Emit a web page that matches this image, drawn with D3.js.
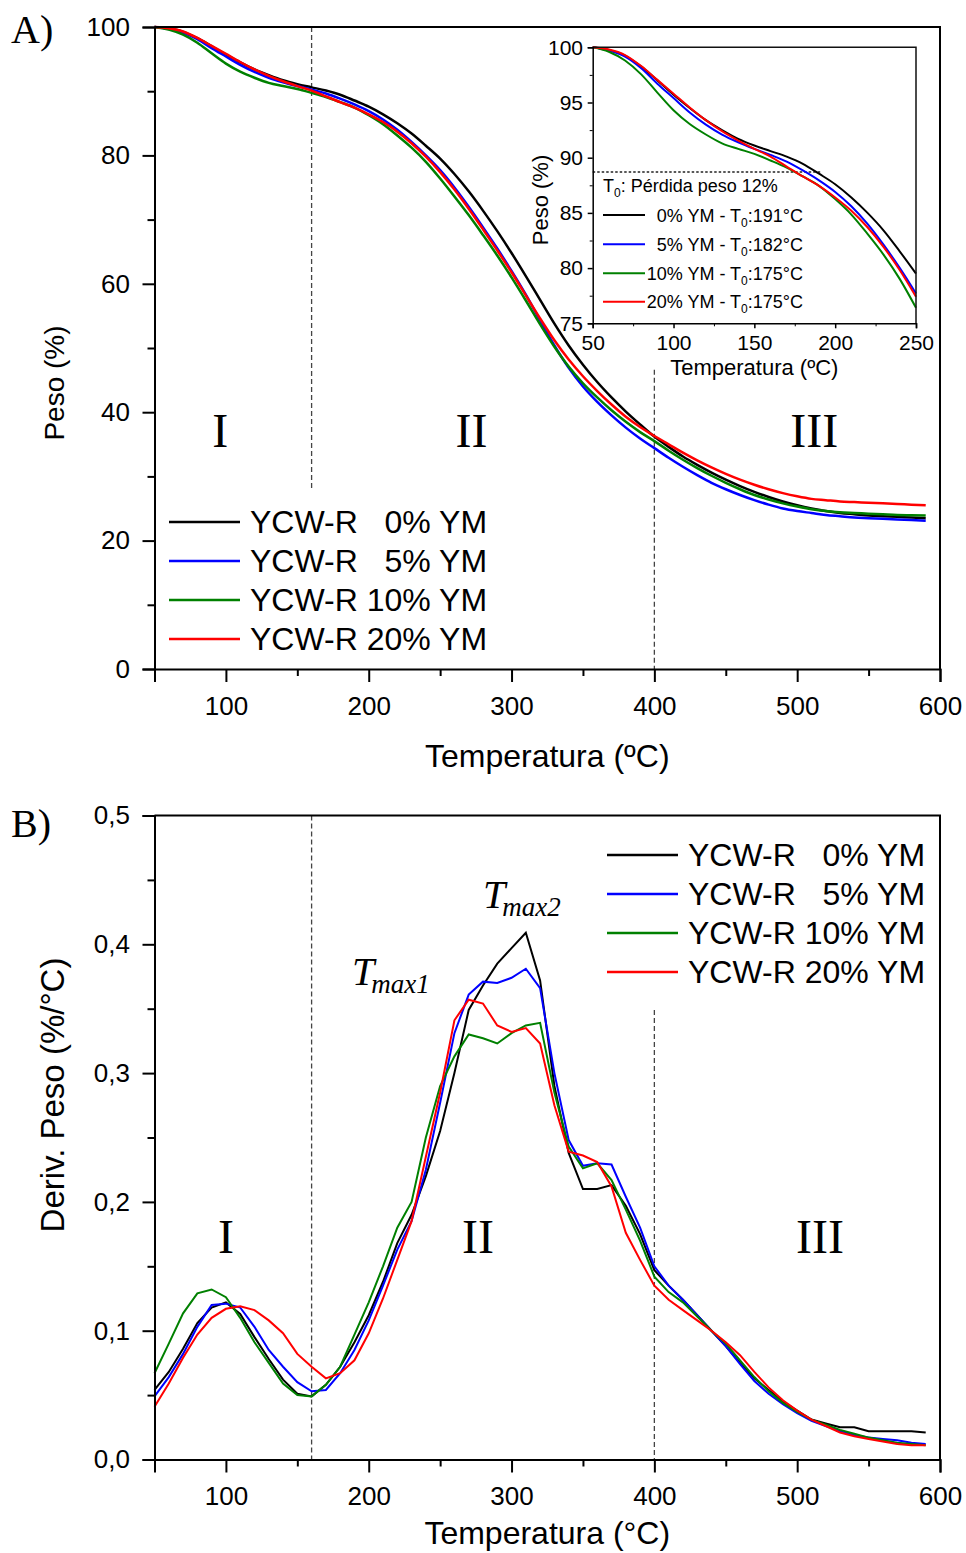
<!DOCTYPE html>
<html>
<head>
<meta charset="utf-8">
<script src="https://cdn.jsdelivr.net/npm/d3@7"></script>
<style>
  html, body { margin: 0; padding: 0; background: #fff; }
  svg { display: block; }
  text { font-family: "Liberation Sans", Arial, sans-serif; fill: #000; }
  .serif { font-family: "Liberation Serif", "Times New Roman", serif; }
  .axis path, .axis line { stroke: #000; }
</style>
</head>
<body>
<svg id="fig" width="966" height="1553"></svg>
<script>
// Temperature grid (°C)
const tempC = [50, 60, 70, 80, 90, 100, 110, 120, 130, 140, 150, 160, 170, 180, 190,
  200, 210, 220, 230, 240, 250, 260, 270, 280, 290, 300, 310, 320, 330, 340, 350,
  360, 370, 380, 390, 400, 410, 420, 430, 440, 450, 460, 470, 480, 490, 500, 510,
  520, 530, 540, 550, 560, 570, 580, 590];

// TGA: residual weight (%)
const weight0 = [100, 99.75, 99.25, 98.25, 97.0, 95.7, 94.5, 93.4, 92.5, 91.7, 91.1, 90.6, 90.1, 89.45, 88.55,
  87.6, 86.4, 85.0, 83.4, 81.5, 79.5, 77.1, 74.4, 71.4, 68.2, 64.8, 61.2, 57.5, 53.8, 50.4, 47.4,
  44.7, 42.3, 40.1, 38.1, 36.2, 34.6, 33.1, 31.8, 30.6, 29.5, 28.5, 27.6, 26.8, 26.1, 25.5, 25.0,
  24.6, 24.3, 24.1, 23.9, 23.8, 23.7, 23.6, 23.5];
const weight5 = [100, 99.7, 99.15, 98.1, 96.7, 95.4, 94.1, 93.0, 92.1, 91.4, 90.8, 90.25, 89.65, 88.85, 87.95,
  86.9, 85.6, 84.0, 82.1, 80.0, 77.7, 75.0, 72.0, 68.8, 65.5, 62.0, 58.3, 54.3, 50.4, 46.9, 44.0,
  41.6, 39.5, 37.6, 35.9, 34.4, 32.9, 31.5, 30.2, 29.0, 28.0, 27.1, 26.3, 25.6, 25.0, 24.6, 24.3,
  24.0, 23.8, 23.6, 23.5, 23.4, 23.3, 23.2, 23.1];
const weight10 = [100, 99.6, 98.8, 97.55, 95.9, 94.3, 93.05, 92.1, 91.3, 90.8, 90.35, 89.75, 89.1, 88.3, 87.45,
  86.25, 84.85, 83.1, 81.2, 79.0, 76.4, 73.6, 70.7, 67.6, 64.4, 61.0, 57.4, 53.7, 50.2, 47.1, 44.5,
  42.3, 40.3, 38.5, 36.9, 35.5, 34.0, 32.6, 31.3, 30.1, 29.0, 28.0, 27.1, 26.4, 25.8, 25.3, 24.9,
  24.6, 24.4, 24.3, 24.2, 24.1, 24.0, 23.95, 23.9];
const weight20 = [100, 99.8, 99.3, 98.3, 97.05, 95.8, 94.55, 93.4, 92.4, 91.55, 90.8, 90.1, 89.2, 88.3, 87.45,
  86.4, 85.2, 83.7, 81.9, 79.8, 77.4, 74.7, 71.7, 68.5, 65.2, 61.8, 58.2, 54.6, 51.2, 48.2, 45.6,
  43.3, 41.2, 39.3, 37.7, 36.3, 35.0, 33.7, 32.5, 31.4, 30.4, 29.5, 28.7, 28.0, 27.4, 26.9, 26.5,
  26.3, 26.1, 26.0, 25.9, 25.8, 25.7, 25.6, 25.5];

// DTG: derivative weight (%/°C)
const deriv0 = [0.054, 0.068, 0.086, 0.106, 0.118, 0.122, 0.113, 0.095, 0.078, 0.062, 0.051, 0.049, 0.058, 0.072, 0.091,
  0.112, 0.138, 0.168, 0.190, 0.220, 0.255, 0.300, 0.349, 0.368, 0.385, 0.397, 0.409, 0.372, 0.290, 0.238, 0.210,
  0.210, 0.213, 0.197, 0.175, 0.147, 0.135, 0.124, 0.112, 0.100, 0.088, 0.075, 0.063, 0.054, 0.045, 0.038, 0.031,
  0.028, 0.025, 0.025, 0.022, 0.022, 0.022, 0.022, 0.021];
const deriv5 = [0.049, 0.064, 0.082, 0.103, 0.120, 0.121, 0.118, 0.103, 0.085, 0.072, 0.060, 0.053, 0.054, 0.067, 0.085,
  0.108, 0.135, 0.163, 0.185, 0.225, 0.277, 0.331, 0.361, 0.371, 0.370, 0.374, 0.381, 0.366, 0.300, 0.248, 0.228,
  0.230, 0.229, 0.204, 0.180, 0.150, 0.135, 0.124, 0.112, 0.100, 0.088, 0.074, 0.061, 0.051, 0.043, 0.036, 0.030,
  0.026, 0.022, 0.019, 0.017, 0.016, 0.015, 0.013, 0.012];
const deriv10 = [0.067, 0.090, 0.1135, 0.129, 0.132, 0.126, 0.110, 0.091, 0.075, 0.059, 0.050, 0.049, 0.058, 0.072, 0.097,
  0.122, 0.150, 0.180, 0.200, 0.250, 0.290, 0.313, 0.330, 0.327, 0.323, 0.331, 0.337, 0.339, 0.285, 0.243, 0.226,
  0.230, 0.217, 0.194, 0.170, 0.142, 0.130, 0.122, 0.111, 0.100, 0.090, 0.077, 0.064, 0.053, 0.044, 0.037, 0.031,
  0.027, 0.023, 0.020, 0.017, 0.015, 0.013, 0.012, 0.011];
const deriv20 = [0.041, 0.059, 0.079, 0.097, 0.110, 0.117, 0.119, 0.116, 0.108, 0.098, 0.082, 0.072, 0.063, 0.067, 0.077,
  0.098, 0.125, 0.155, 0.185, 0.235, 0.285, 0.341, 0.357, 0.354, 0.337, 0.332, 0.335, 0.323, 0.275, 0.239, 0.236,
  0.231, 0.212, 0.176, 0.155, 0.135, 0.124, 0.116, 0.108, 0.100, 0.091, 0.081, 0.068, 0.056, 0.046, 0.038, 0.031,
  0.026, 0.021, 0.018, 0.016, 0.014, 0.012, 0.011, 0.011];

// Series labels and colours
const seriesNames = ["YCW-R   0% YM", "YCW-R   5% YM", "YCW-R 10% YM", "YCW-R 20% YM"];
const ymPercent = ["0", "5", "10", "20"];
const onsetTemps = [191, 182, 175, 175];
const seriesColors = ["#000000", "#0000ff", "#008000", "#ff0000"];

// Axis ticks
const tempTicks = [100, 200, 300, 400, 500, 600];
const tempMinor = [50, 150, 250, 350, 450, 550];
const weightTicks = [0, 20, 40, 60, 80, 100];
const weightMinor = [10, 30, 50, 70, 90];
const derivTicks = [0, 0.1, 0.2, 0.3, 0.4, 0.5];
const derivMinor = [0.05, 0.15, 0.25, 0.35, 0.45];
const insetTempTicks = [50, 100, 150, 200, 250];
const insetTempMinor = [75, 125, 175, 225];
const insetWeightTicks = [75, 80, 85, 90, 95, 100];
const insetWeightMinor = [77.5, 82.5, 87.5, 92.5, 97.5];

// Stage boundaries and onset level
const stageBounds = [160, 400];
const stageNames = ["I", "II", "III"];
const stageCentersA = [96, 272, 512];
const stageCentersB = [100, 276.5, 516];
const onsetLevel = 88.7;

const weights = [weight0, weight5, weight10, weight20];
const derivs = [deriv0, deriv5, deriv10, deriv20];

const svg = d3.select("#fig");

const x = d3.scaleLinear().domain([50, 600]).range([154.5, 940]);
const yA = d3.scaleLinear().domain([0, 100]).range([669, 27]);
const yB = d3.scaleLinear().domain([0, 0.5]).range([1459.5, 815.5]);

const commaFmt = v => d3.format(".1f")(v).replace(".", ",");

function drawFrame(yScale, yTicks, yMinor, yFmt, titleX, titleXOffset, titleY, titleYCenter, titleYSize) {
  const [bottom, top] = yScale.range();
  const [left, right] = x.range();

  // top and right borders
  svg.append("path")
    .attr("d", `M${left},${top}H${right}V${bottom}`)
    .attr("fill", "none").attr("stroke", "#000").attr("stroke-width", 2);

  // x axis
  const gx = svg.append("g").attr("class", "axis").attr("transform", `translate(0,${bottom})`);
  gx.call(d3.axisBottom(x).tickValues(tempTicks).tickSize(13).tickPadding(14.5).tickFormat(d3.format("d")));
  gx.select(".domain").attr("stroke-width", 2);
  gx.selectAll(".tick line").attr("stroke-width", 2);
  gx.selectAll("text").attr("font-size", 26);
  const gxm = svg.append("g").attr("class", "axis").attr("transform", `translate(0,${bottom})`);
  gxm.call(d3.axisBottom(x).tickValues(tempMinor).tickSize(7).tickFormat(""));
  gxm.select(".domain").remove();
  gxm.selectAll(".tick line").attr("stroke-width", 2);

  // y axis
  const gy = svg.append("g").attr("class", "axis").attr("transform", `translate(${left},0)`);
  gy.call(d3.axisLeft(yScale).tickValues(yTicks).tickSize(12).tickPadding(12.5).tickFormat(yFmt));
  gy.select(".domain").attr("stroke-width", 2);
  gy.selectAll(".tick line").attr("stroke-width", 2);
  gy.selectAll("text").attr("font-size", 26);
  const gym = svg.append("g").attr("class", "axis").attr("transform", `translate(${left},0)`);
  gym.call(d3.axisLeft(yScale).tickValues(yMinor).tickSize(7).tickFormat(""));
  gym.select(".domain").remove();
  gym.selectAll(".tick line").attr("stroke-width", 2);

  // axis titles
  svg.append("text")
    .attr("x", (left + right) / 2).attr("y", bottom + titleXOffset)
    .attr("text-anchor", "middle").attr("font-size", 32)
    .text(titleX);
  svg.append("text")
    .attr("transform", `translate(64,${titleYCenter}) rotate(-90)`)
    .attr("text-anchor", "middle").attr("font-size", titleYSize)
    .text(titleY);
}

function guide(t, yScale, v0, v1) {
  svg.append("line")
    .attr("x1", x(t)).attr("x2", x(t))
    .attr("y1", yScale(v0)).attr("y2", yScale(v1))
    .attr("stroke", "#444").attr("stroke-width", 1.3)
    .attr("stroke-dasharray", "5,3");
}

function legend(x0, yTop, names) {
  names.forEach((name, i) => {
    const yy = yTop + i * 39;
    svg.append("line")
      .attr("x1", x0).attr("x2", x0 + 71).attr("y1", yy).attr("y2", yy)
      .attr("stroke", seriesColors[i]).attr("stroke-width", 2.5);
    svg.append("text")
      .attr("x", x0 + 81).attr("y", yy + 11)
      .attr("font-size", 32).style("white-space", "pre")
      .text(name);
  });
}

function stageLabels(centers, baseline) {
  stageNames.forEach((s, i) => {
    svg.append("text").attr("class", "serif")
      .attr("x", x(centers[i])).attr("y", baseline)
      .attr("text-anchor", "middle").attr("font-size", 48)
      .text(s);
  });
}

// ---------- Panel A: TGA ----------
guide(stageBounds[0], yA, 100, 27.9);
guide(stageBounds[1], yA, 46.6, 0);

const lineA = d3.line().x(d => x(d[0])).y(d => yA(d[1])).curve(d3.curveMonotoneX);
weights.forEach((w, i) => {
  svg.append("path")
    .datum(tempC.map((t, k) => [t, w[k]]))
    .attr("d", lineA)
    .attr("fill", "none").attr("stroke", seriesColors[i]).attr("stroke-width", 2.5);
});

drawFrame(yA, weightTicks, weightMinor, d3.format("d"), "Temperatura (ºC)", 98, "Peso (%)", 383, 28);
legend(169, 522, seriesNames);
stageLabels(stageCentersA, 447);

svg.append("text").attr("class", "serif")
  .attr("x", 11).attr("y", 43).attr("font-size", 40).text("A)");

// ---------- Inset: onset region ----------
const xI = d3.scaleLinear().domain([50, 250]).range([592.7, 916]);
const yI = d3.scaleLinear().domain([75, 100]).range([323.3, 47.3]);

svg.append("rect")
  .attr("x", xI(50)).attr("y", yI(100))
  .attr("width", xI(250) - xI(50)).attr("height", yI(75) - yI(100))
  .attr("fill", "#fff");

svg.append("line")
  .attr("x1", xI(50)).attr("x2", xI(onsetTemps[0]))
  .attr("y1", yI(onsetLevel)).attr("y2", yI(onsetLevel))
  .attr("stroke", "#222").attr("stroke-width", 1.4).attr("stroke-dasharray", "2.5,2");

const lineI = d3.line().x(d => xI(d[0])).y(d => yI(d[1])).curve(d3.curveMonotoneX);
weights.forEach((w, i) => {
  const pts = tempC.map((t, k) => [t, w[k]]).filter(d => d[0] <= 250);
  svg.append("path")
    .datum(pts)
    .attr("d", lineI)
    .attr("fill", "none").attr("stroke", seriesColors[i]).attr("stroke-width", 2);
});

svg.append("path")
  .attr("d", `M${xI(50)},${yI(100)}H${xI(250)}V${yI(75)}`)
  .attr("fill", "none").attr("stroke", "#111").attr("stroke-width", 1.5);

const gxi = svg.append("g").attr("class", "axis").attr("transform", `translate(0,${yI(75)})`);
gxi.call(d3.axisBottom(xI).tickValues(insetTempTicks).tickSize(5).tickPadding(6.8).tickFormat(d3.format("d")));
gxi.selectAll("text").attr("font-size", 21);
gxi.select(".domain").attr("stroke-width", 1.5);
gxi.selectAll(".tick line").attr("stroke-width", 1.5);
const gxim = svg.append("g").attr("class", "axis").attr("transform", `translate(0,${yI(75)})`);
gxim.call(d3.axisBottom(xI).tickValues(insetTempMinor).tickSize(3).tickFormat(""));
gxim.select(".domain").remove();

const gyi = svg.append("g").attr("class", "axis").attr("transform", `translate(${xI(50)},0)`);
gyi.call(d3.axisLeft(yI).tickValues(insetWeightTicks).tickSize(5).tickPadding(4.7).tickFormat(d3.format("d")));
gyi.selectAll("text").attr("font-size", 21);
gyi.select(".domain").attr("stroke-width", 1.5);
gyi.selectAll(".tick line").attr("stroke-width", 1.5);
const gyim = svg.append("g").attr("class", "axis").attr("transform", `translate(${xI(50)},0)`);
gyim.call(d3.axisLeft(yI).tickValues(insetWeightMinor).tickSize(3).tickFormat(""));
gyim.select(".domain").remove();

svg.append("text")
  .attr("x", (xI(50) + xI(250)) / 2).attr("y", 375)
  .attr("text-anchor", "middle").attr("font-size", 22)
  .text("Temperatura (ºC)");
svg.append("text")
  .attr("transform", "translate(548,200) rotate(-90)")
  .attr("text-anchor", "middle").attr("font-size", 22)
  .text("Peso (%)");

// inset legend
const hdr = svg.append("text").attr("x", 603).attr("y", 192).attr("font-size", 18);
hdr.append("tspan").text("T");
hdr.append("tspan").attr("font-size", 12).attr("dy", 5).text("0");
hdr.append("tspan").attr("dy", -5).text(": Pérdida peso 12%");

const insetRows = [215, 244.3, 273.3, 301.7];
ymPercent.forEach((p, i) => {
  const yy = insetRows[i];
  svg.append("line")
    .attr("x1", 603).attr("x2", 645).attr("y1", yy).attr("y2", yy)
    .attr("stroke", seriesColors[i]).attr("stroke-width", 2);
  const t = svg.append("text").attr("x", 803).attr("y", yy + 6.5)
    .attr("text-anchor", "end").attr("font-size", 18);
  t.append("tspan").text(`${p}% YM - T`);
  t.append("tspan").attr("font-size", 12).attr("dy", 5).text("0");
  t.append("tspan").attr("dy", -5).text(`:${onsetTemps[i]}°C`);
});

// ---------- Panel B: DTG ----------
guide(stageBounds[0], yB, 0.5, 0);
guide(stageBounds[1], yB, 0.349, 0);

const lineB = d3.line().x(d => x(d[0])).y(d => yB(d[1]));
derivs.forEach((dv, i) => {
  svg.append("path")
    .datum(tempC.map((t, k) => [t, dv[k]]))
    .attr("d", lineB)
    .attr("fill", "none").attr("stroke", seriesColors[i]).attr("stroke-width", 2)
    .attr("stroke-linejoin", "miter");
});

drawFrame(yB, derivTicks, derivMinor, commaFmt, "Temperatura (°C)", 84, "Deriv. Peso (%/°C)", 1095, 33);
legend(607, 855, seriesNames);
stageLabels(stageCentersB, 1253);

svg.append("text").attr("class", "serif")
  .attr("x", 11).attr("y", 837).attr("font-size", 40).text("B)");

function tmax(xx, yy, sub) {
  const t = svg.append("text").attr("class", "serif")
    .attr("x", xx).attr("y", yy).attr("font-size", 40).attr("font-style", "italic");
  t.append("tspan").text("T");
  t.append("tspan").attr("font-size", 27).attr("dx", -3).attr("dy", 8).text(sub);
}
tmax(352, 985, "max1");
tmax(483, 908, "max2");
</script>
</body>
</html>
